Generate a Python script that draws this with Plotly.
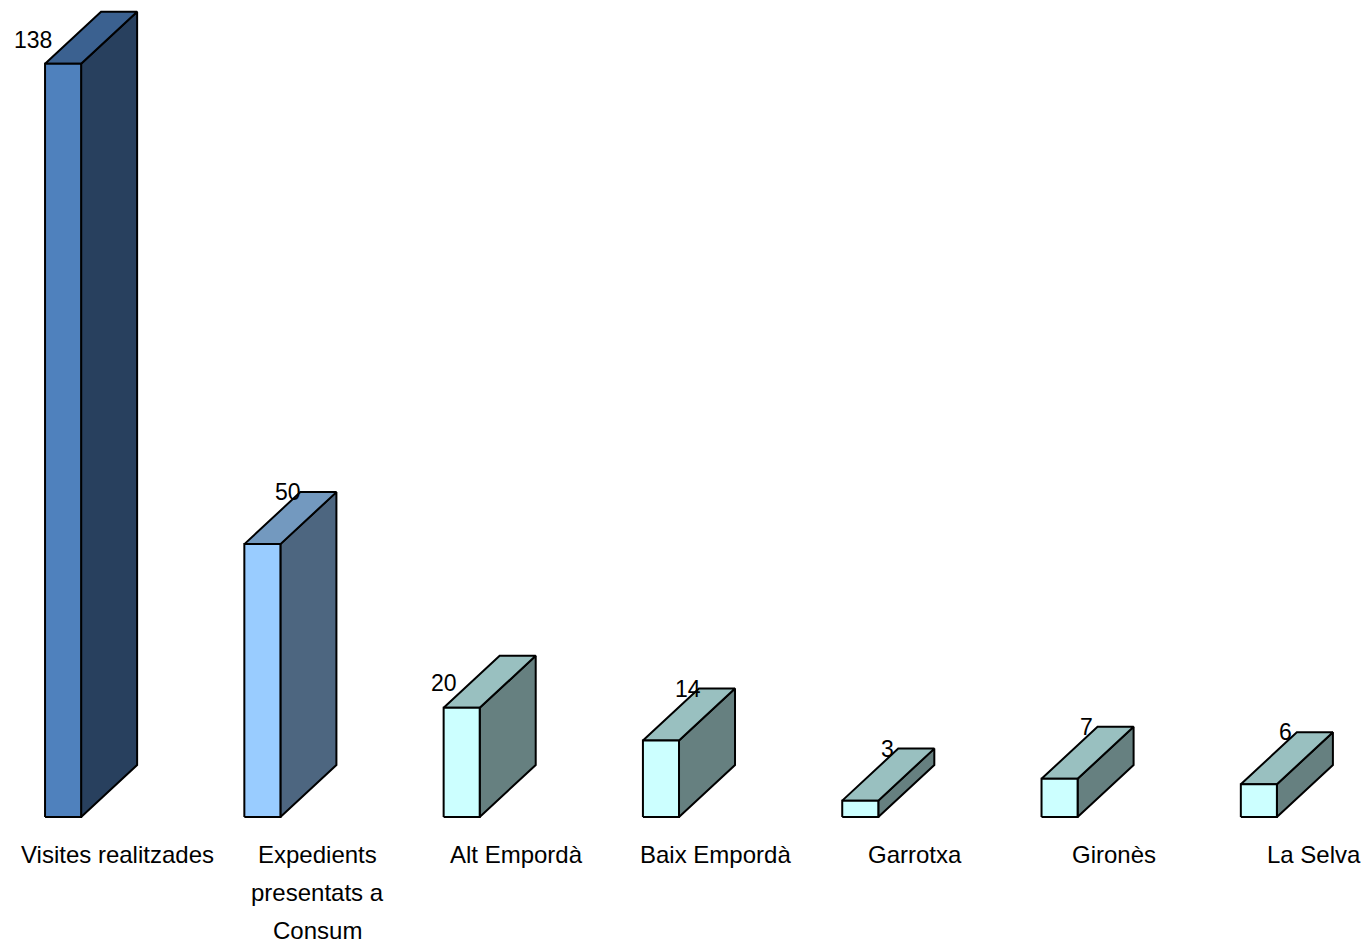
import plotly.graph_objects as go

categories = ["Visites realitzades", "Expedients<br>presentats a<br>Consum", "Alt Empordà",
              "Baix Empordà", "Garrotxa", "Gironès", "La Selva"]
values = [138, 50, 20, 14, 3, 7, 6]

# styling
front_colors = ["#4F81BD", "#99CCFF", "#CCFFFF", "#CCFFFF", "#CCFFFF", "#CCFFFF", "#CCFFFF"]
top_colors = ["#3B6190", "#7399BF", "#99C0C0", "#99C0C0", "#99C0C0", "#99C0C0", "#99C0C0"]
side_colors = ["#28405E", "#4D6680", "#668080", "#668080", "#668080", "#668080", "#668080"]
label_shift = [(-68, -28), (-12, 0), (-56, -27), (-11, 0), (-11, 0), (-11, 0), (-11, 0)]

BAR_W = 0.181
OFFSET = -0.366
DX = 0.281
DY = 9.53
FONT = "Liberation Sans Narrow, Arial Narrow, Liberation Sans, Arial, sans-serif"

fig = go.Figure()
for i, v in enumerate(values):
    x0 = i + OFFSET
    x1 = x0 + BAR_W
    # side face
    fig.add_trace(go.Scatter(
        x=[x1, x1 + DX, x1 + DX, x1, x1], y=[0, DY, v + DY, v, 0],
        fill="toself", fillcolor=side_colors[i], mode="lines",
        line=dict(color="black", width=2), hoverinfo="skip", showlegend=False))
    # top face
    fig.add_trace(go.Scatter(
        x=[x0, x0 + DX, x1 + DX, x1, x0], y=[v, v + DY, v + DY, v, v],
        fill="toself", fillcolor=top_colors[i], mode="lines",
        line=dict(color="black", width=2), hoverinfo="skip", showlegend=False))
    # front face
    fig.add_trace(go.Scatter(
        x=[x0, x1, x1, x0, x0], y=[0, 0, v, v, 0],
        fill="toself", fillcolor=front_colors[i], mode="lines",
        line=dict(color="black", width=2), hoverinfo="skip", showlegend=False))
    sx, sy = label_shift[i]
    fig.add_annotation(x=x0 + DX, y=v + DY, text=str(v), showarrow=False,
                       xanchor="center", yanchor="middle", xshift=sx, yshift=sy,
                       font=dict(family=FONT, size=23, color="black"))
    for j, line in enumerate(categories[i].split("<br>")):
        fig.add_annotation(x=i, y=0, text=line, showarrow=False,
                           xanchor="center", yanchor="middle", yshift=-37 - 38 * j,
                           font=dict(family=FONT, size=24, color="black"))

fig.update_layout(
    width=1362, height=944,
    margin=dict(l=0, r=0, t=0, b=0),
    paper_bgcolor="white", plot_bgcolor="white",
    xaxis=dict(range=[-0.592, 6.242], visible=False, fixedrange=True),
    yaxis=dict(range=[-23.27, 149.7], visible=False, fixedrange=True),
)
fig.write_html("out.html")
